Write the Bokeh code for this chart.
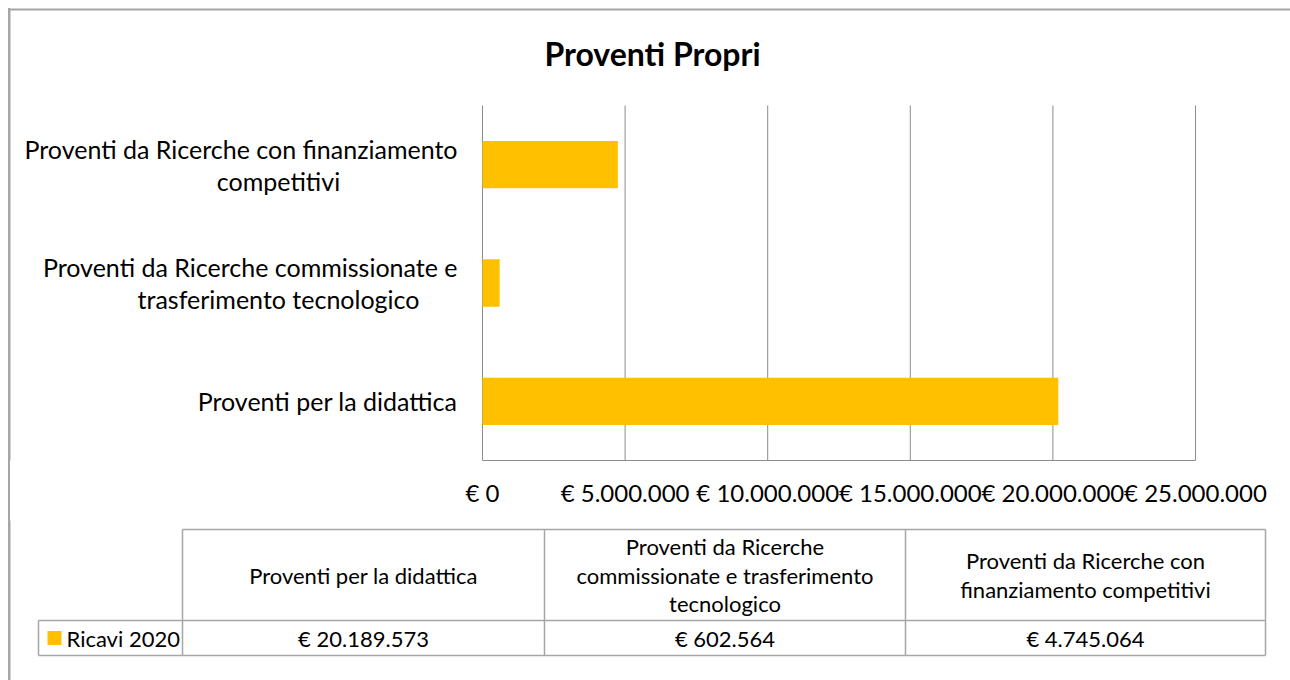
from bokeh.plotting import figure
from bokeh.layouts import column
from bokeh.models import Range1d, FixedTicker, LinearAxis, ColumnDataSource
from bokeh.core.properties import value
from bokeh.embed import file_html
from bokeh.resources import INLINE

# ---------------- data ----------------
categories = [
    "Proventi per la didattica",
    "Proventi da Ricerche commissionate e trasferimento tecnologico",
    "Proventi da Ricerche con finanziamento competitivi",
]
axis_labels = [
    "Proventi per la didattica",
    "Proventi da Ricerche commissionate e\ntrasferimento tecnologico",
    "Proventi da Ricerche con finanziamento\ncompetitivi",
]
table_headers = [
    "Proventi per la didattica",
    "Proventi da Ricerche\ncommissionate e trasferimento\ntecnologico",
    "Proventi da Ricerche con\nfinanziamento competitivi",
]
series_name = "Ricavi 2020"
values = [20189573, 602564, 4745064]
tick_values = [0, 5000000, 10000000, 15000000, 20000000, 25000000]
tick_labels = ["€ 0", "€ 5.000.000", "€ 10.000.000", "€ 15.000.000",
               "€ 20.000.000", "€ 25.000.000"]
title_text = "Proventi Propri"

# ---------------- style / layout (page pixels) ----------------
FONT = "Lato"
BAR = "#FFC000"
GRID = "#8c8c8c"
BORDER = "#a6a6a6"
W = 1290
TOP_H, TAB_H = 520, 160
FL, FR, FT, FB = 482, 1195, 105, 460      # plot area
VMAX = tick_values[-1]
NCAT = len(categories)
LEFT_LINE_CSS = {"background": f"linear-gradient({BORDER},{BORDER}) 8px 0px / 2px 100% no-repeat"}


def euro(v):
    return "€ " + f"{v:,}".replace(",", ".")


# value / category scales placed inside the page-pixel frame
kx = VMAX / (FR - FL)
ky = NCAT / (FB - FT)
val_range = Range1d(-FL * kx, (W - FL) * kx)
cat_range = Range1d(0, NCAT + FT * ky)      # frame spans page y 0..FB
cat_pos = [i + 0.5 for i in range(NCAT)]

# ================= chart figure =================
p = figure(width=W, height=TOP_H, x_range=Range1d(0, W), y_range=Range1d(FB, 0),
           x_axis_type=None, y_axis_type=None,
           toolbar_location=None, output_backend="svg",
           min_border_left=0, min_border_right=0, min_border_top=0,
           min_border_bottom=TOP_H - FB,
           border_fill_color=None, background_fill_color=None)
p.extra_x_ranges = {"val": val_range}
p.extra_y_ranges = {"cat": cat_range}
p.grid.visible = False
p.outline_line_color = None
VC = dict(x_range_name="val", y_range_name="cat")

# vertical gridlines + left axis line
p.segment(x0=tick_values, y0=[0] * len(tick_values), x1=tick_values,
          y1=[NCAT] * len(tick_values), line_color=GRID, line_width=1, **VC)

# bars
src = ColumnDataSource(dict(y=cat_pos, right=values, name=categories))
p.hbar(y="y", right="right", left=0, height=0.4, source=src,
       color=BAR, line_color=None, **VC)

# value axis
xa = LinearAxis(x_range_name="val", ticker=FixedTicker(ticks=tick_values),
                bounds=(0, VMAX))
xa.major_label_overrides = dict(zip(tick_values, tick_labels))
xa.major_tick_line_color = None
xa.minor_tick_line_color = None
xa.axis_line_color = GRID
xa.major_label_standoff = 11
xa.major_label_text_font = FONT
xa.major_label_text_font_size = "24px"
xa.major_label_text_color = "black"
p.add_layout(xa, "below")

TXT = dict(text_font=value(FONT), text_color="black", text_baseline="middle")

# category labels (wrapped like the original)
for yc, lab in zip(cat_pos, axis_labels):
    lines = lab.split("\n")
    if len(lines) == 1:
        p.text(x=[0], y=[yc], text=lines, x_offset=-25, text_align="right",
               text_font_size="25px", **TXT, **VC)
    else:
        p.text(x=[0], y=[yc], text=[lines[0]], x_offset=-25, y_offset=-16,
               text_align="right", text_font_size="25px", **TXT, **VC)
        p.text(x=[0], y=[yc], text=[lines[1]], x_offset=-204, y_offset=16,
               text_align="center", text_font_size="25px", **TXT, **VC)

# title
p.text(x=[652], y=[53], text=[title_text], text_align="center",
       text_font_style="bold", text_font_size="32px", **TXT)

# outer border (top and left)
p.segment(x0=[9, 9], y0=[9, 9], x1=[W, 9], y1=[9, FB + 100],
          line_color=BORDER, line_width=2)
# left frame line also through the axis strip (below the plotting frame)
p.styles = {"background": f"linear-gradient({BORDER},{BORDER}) 8px 8px / 2px 100% no-repeat"}

# ================= data-table figure =================
tb = figure(width=W, height=TAB_H, x_range=Range1d(0, W),
            y_range=Range1d(TOP_H + TAB_H, TOP_H),
            x_axis_type=None, y_axis_type=None,
            toolbar_location=None, output_backend="svg", min_border=0,
            border_fill_color=None, background_fill_color=None)
tb.grid.visible = False
tb.outline_line_color = None
tb.segment(x0=[9], y0=[TOP_H - 5], x1=[9], y1=[TOP_H + TAB_H + 5],
           line_color=BORDER, line_width=2)
tb.styles = dict(LEFT_LINE_CSS)

cols = [182, 544, 905, 1265]
left = 38
top, mid, bot = 529, 620, 655
hx0 = [cols[0], left, left]
hy = [top, mid, bot]
hx1 = [cols[-1]] * 3
vx = [left] + cols
vy0 = [mid] + [top] * len(cols)
vy1 = [bot] * (len(cols) + 1)
tb.segment(x0=hx0 + vx, y0=hy + vy0, x1=hx1 + vx, y1=hy + vy1,
           line_color=BORDER, line_width=1.5)

centers = [(cols[i] + cols[i + 1]) / 2 for i in range(3)]
row_h = (top + mid) / 2
lh = 28.5
for cx, head in zip(centers, table_headers):
    parts = head.split("\n")
    n = len(parts)
    ys = [row_h + (k - (n - 1) / 2) * lh for k in range(n)]
    tb.text(x=[cx] * n, y=ys, text=parts, text_align="center",
            text_font_size="22px", **TXT)
row_d = (mid + bot) / 2
tb.text(x=centers, y=[row_d] * 3, text=[euro(v) for v in values],
        text_align="center", text_font_size="22px", **TXT)
tb.rect(x=[54], y=[row_d], width=14, height=14, color=BAR, line_color=None)
tb.text(x=[66], y=[row_d], text=[series_name], text_align="left",
        text_font_size="22px", **TXT)

layout = column(p, tb, spacing=0,
                styles={"background": f"linear-gradient({BORDER},{BORDER}) 8px 8px / 2px 100% no-repeat, white"})
open("out.html", "w").write(file_html(layout, INLINE))
